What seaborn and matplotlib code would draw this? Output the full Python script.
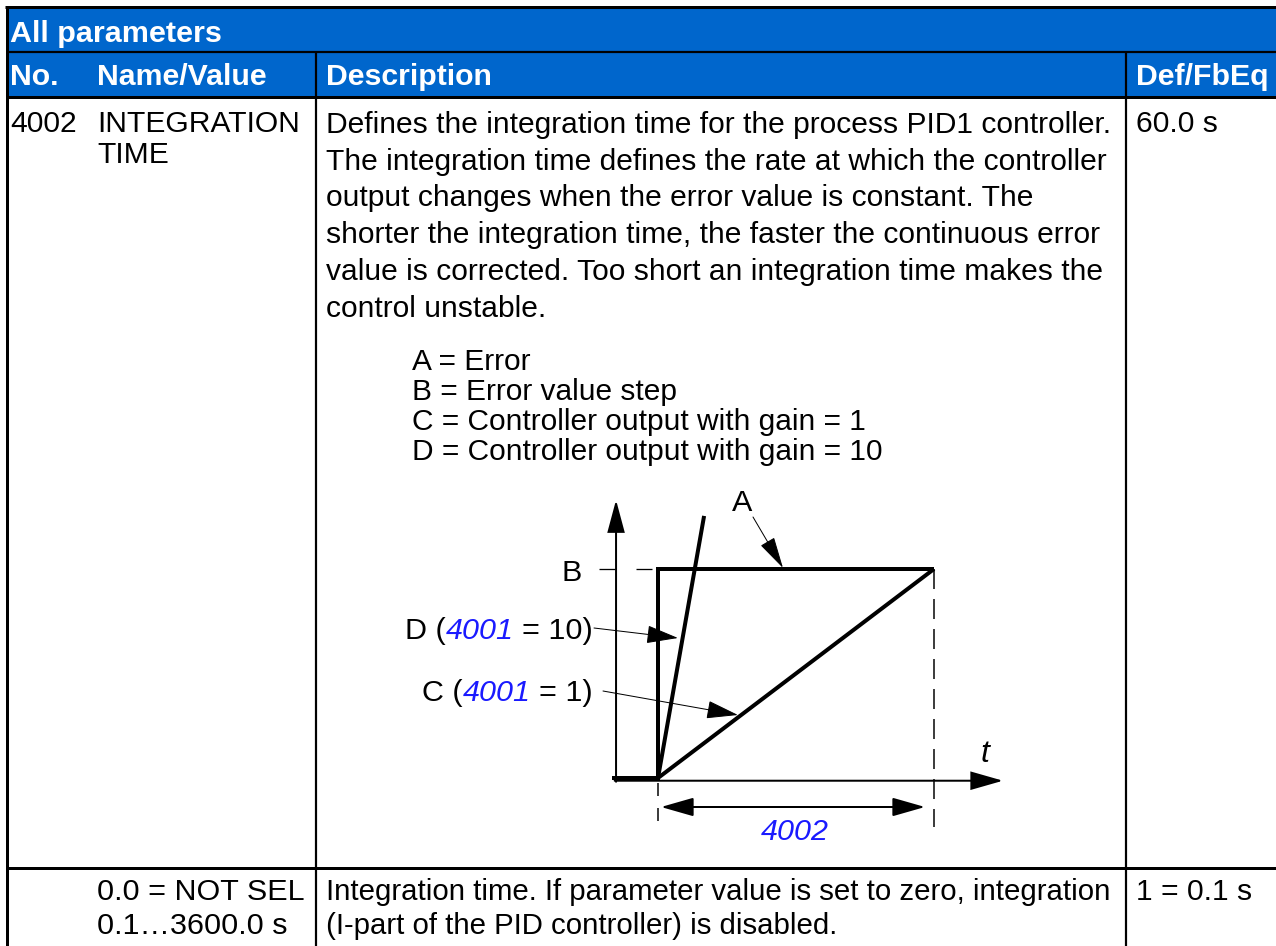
import numpy as np
import pandas as pd
import matplotlib
matplotlib.use("Agg")
import matplotlib.pyplot as plt
from matplotlib.patches import Rectangle
import seaborn as sns

# ---------------- table content ----------------
header_title = "All parameters"
col_headers = ["No.", "Name/Value", "Description", "Def/FbEq"]
param_no = "4002"
param_name = ["INTEGRATION", "TIME"]
description = [
    "Defines the integration time for the process PID1 controller.",
    "The integration time defines the rate at which the controller",
    "output changes when the error value is constant. The",
    "shorter the integration time, the faster the continuous error",
    "value is corrected. Too short an integration time makes the",
    "control unstable.",
]
legend_lines = [
    "A = Error",
    "B = Error value step",
    "C = Controller output with gain = 1",
    "D = Controller output with gain = 10",
]
default_value = "60.0 s"
range_values = ["0.0 = NOT SEL", "0.1\u20263600.0 s"]
range_desc = [
    "Integration time. If parameter value is set to zero, integration",
    "(I-part of the PID controller) is disabled.",
]
fbeq = "1 = 0.1 s"

# ---------------- diagram data ----------------
# time in units of the integration time, value in units of the error step B
error_t = [-0.167, 0.0, 0.0, 1.0]
error_v = [0.0, 0.0, 1.0, 1.0]
gain1_t = [0.0, 1.0]
gain1_v = [0.0, 1.0]
gain10_t = [0.0, 0.167]
gain10_v = [0.0, 1.254]

HEADER_BLUE = "#0066CC"
LINK_BLUE = "#1a1aff"
FONT = "Liberation Sans"

sns.set_theme(style="white")
plt.rcParams["font.family"] = [FONT, "DejaVu Sans"]

W, H = 1276, 946
fig = plt.figure(figsize=(W / 100, H / 100), dpi=100)
ax = fig.add_axes([0, 0, 1, 1])
ax.set_xlim(0, W)
ax.set_ylim(H, 0)
ax.axis("off")

PX = 0.72  # points per pixel at 100 dpi

# header background
ax.add_patch(Rectangle((6, 7), W - 6, 97 - 7, facecolor=HEADER_BLUE, edgecolor="none"))

# table lines
ax.plot([5, W], [7.5, 7.5], color="black", lw=3 * PX, solid_capstyle="butt")
ax.plot([6, W], [52, 52], color="black", lw=2.2 * PX, solid_capstyle="butt")
ax.plot([6, W], [97.5, 97.5], color="black", lw=3 * PX, solid_capstyle="butt")
ax.plot([6, W], [867.5, 867.5], color="black", lw=3 * PX, solid_capstyle="butt")
ax.plot([6.5, 6.5], [6, H], color="black", lw=3 * PX, solid_capstyle="butt")
for xc in (316, 1126):
    ax.plot([xc, xc], [52, H], color="black", lw=2.2 * PX, solid_capstyle="butt")

FS = 30 * PX  # body font size
FS_D = 30.5 * PX  # diagram font size


def txt(x, y, s, **kw):
    kw.setdefault("fontsize", FS)
    kw.setdefault("color", "black")
    kw.setdefault("ha", "left")
    kw.setdefault("va", "center_baseline")
    return ax.text(x, y, s, family=[FONT, "DejaVu Sans"], **kw)


# header texts
txt(10, 31, header_title, color="white", fontweight="bold", fontsize=30.5 * PX)
for x, s in zip([10, 97, 326, 1136], col_headers):
    txt(x, 74, s, color="white", fontweight="bold", fontsize=30.2 * PX)

# body row 1
txt(10, 121, param_no)
txt(97, 121, param_name[0])
txt(97, 152, param_name[1])
for i, line in enumerate(description):
    txt(326, 122 + 36.7 * i, line)
txt(1136, 121, default_value)
for i, line in enumerate(legend_lines):
    txt(412, 359 + 30 * i, line, fontsize=29.9 * PX)

# body row 2
for i, line in enumerate(range_values):
    txt(97, 889 + 34 * i, line, fontsize=30.5 * PX)
for i, line in enumerate(range_desc):
    txt(326, 889 + 34 * i, line, fontsize=29.4 * PX)
txt(1136, 889, fbeq)

# ---------------- diagram ----------------
X0, XS = 658.0, 276.0  # pixel of t=0, pixels per unit t
Y0, YS = 778.0, 209.0  # pixel of v=0, pixels per unit v
bx0, bx1, by0, by1 = 380, 1030, 480, 850
dax = fig.add_axes([bx0 / W, 1 - by1 / H, (bx1 - bx0) / W, (by1 - by0) / H])
dax.set_xlim((bx0 - X0) / XS, (bx1 - X0) / XS)
dax.set_ylim((Y0 - by1) / YS, (Y0 - by0) / YS)
dax.axis("off")
dax.patch.set_alpha(0)

df_err = pd.DataFrame({"t": error_t, "v": error_v})
df_g1 = pd.DataFrame({"t": gain1_t, "v": gain1_v})
df_g10 = pd.DataFrame({"t": gain10_t, "v": gain10_v})
for d in (df_err, df_g1, df_g10):
    sns.lineplot(data=d, x="t", y="v", ax=dax, estimator=None, sort=False,
                 color="black", lw=4 * PX, solid_joinstyle="miter",
                 solid_capstyle="butt", legend=False)
dax.set_xlabel("")
dax.set_ylabel("")
dax.axis("off")

axis_v = -0.013
axis_t = -0.152


def arrow(start, end, lw, hl, hw):
    dax.annotate("", xy=end, xytext=start,
                 arrowprops=dict(arrowstyle=f"-|>,head_length={hl * PX},head_width={hw * PX}",
                                 lw=lw * PX, color="black", shrinkA=0, shrinkB=0,
                                 mutation_scale=1, joinstyle="miter"))


# axes of the diagram
t_tip = (1003 - X0) / XS
v_tip = (Y0 - 500) / YS
arrow((axis_t, axis_v - 0.005), (axis_t, v_tip), 2, 28, 7.5)
arrow((axis_t - 0.005, axis_v), (t_tip, axis_v), 2, 28, 8)

# dashed guides
t_b0 = (599 - X0) / XS
dax.plot([t_b0, 0], [1, 1], color="black", lw=1.3 * PX, linestyle=(0, (16 / 1.3, 21 / 1.3)))
v_bot = (Y0 - 827) / YS
dax.plot([1, 1], [1, v_bot], color="black", lw=1.5 * PX, linestyle=(0, (20 / 1.5, 10 / 1.5)))
dax.plot([0, 0], [axis_v - 0.01, v_bot], color="black", lw=1.5 * PX,
         linestyle=(0, (13 / 1.5, 12 / 1.5)))

# integration time dimension arrow
v_dim = (Y0 - 807) / YS
t_a = (661 - X0) / XS
t_b = (925 - X0) / XS
dax.annotate("", xy=(t_b, v_dim), xytext=(t_a, v_dim),
             arrowprops=dict(arrowstyle=f"<|-|>,head_length={28 * PX},head_width={8 * PX}",
                             lw=2 * PX, color="black", shrinkA=0, shrinkB=0,
                             mutation_scale=1))
ax.text(795, 829, "4002", color=LINK_BLUE, fontsize=FS_D, fontstyle="italic",
        ha="center", va="center_baseline", family=[FONT, "DejaVu Sans"])

# labels
txt(985, 750, "t", fontsize=32 * PX, fontstyle="italic", ha="center")
txt(742, 500, "A", fontsize=FS_D, ha="center")
txt(582, 570, "B", fontsize=FS_D, ha="right")


def p2d(px, py):
    return ((px - X0) / XS, (Y0 - py) / YS)


arrow(p2d(753, 517), p2d(783, 568), 1, 28, 7)
arrow(p2d(594, 628), p2d(678, 638), 1, 28, 8)
arrow(p2d(603, 691), p2d(738, 715), 1, 28, 8)

# mixed colour labels, right aligned
renderer = fig.canvas.get_renderer()


def width_of(s, **kw):
    t = ax.text(0, 0, s, fontsize=FS_D, family=[FONT, "DejaVu Sans"], **kw)
    w = t.get_window_extent(renderer).width
    t.remove()
    return w


def runs_right(xr, y, runs):
    for i, (s, col, sty) in enumerate(runs):
        suffix = "".join(r[0] for r in runs[i:]).lstrip()
        x = xr - width_of(suffix)
        ax.text(x, y, s.lstrip(), color=col, fontstyle=sty, fontsize=FS_D,
                ha="left", va="center_baseline", family=[FONT, "DejaVu Sans"])


runs_right(593, 628, [("D (", "black", "normal"), ("4001", LINK_BLUE, "italic"),
                      (" = 10)", "black", "normal")])
runs_right(593, 690, [("C (", "black", "normal"), ("4001", LINK_BLUE, "italic"),
                      (" = 1)", "black", "normal")])

fig.savefig("out.png", dpi=100)
